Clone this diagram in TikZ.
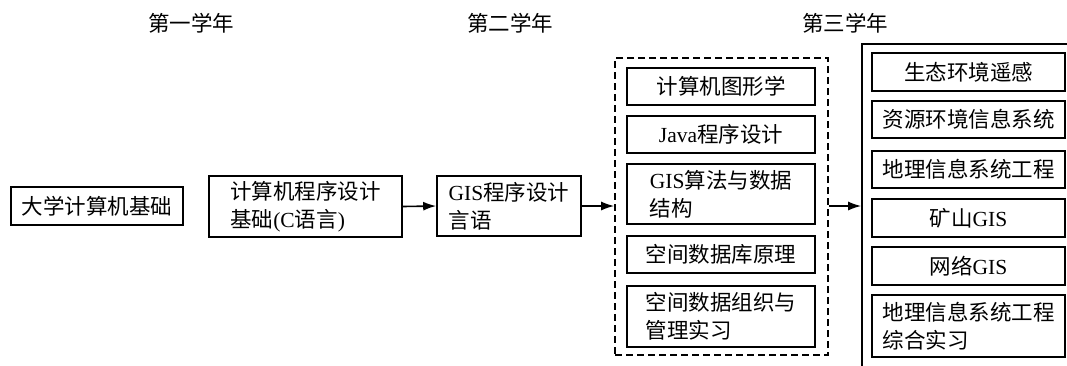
\documentclass[tikz,border=0pt]{standalone}
\usepackage{fontspec}
\setmainfont{Noto Sans CJK SC}
\newfontfamily\lat{Liberation Serif}
\usetikzlibrary{arrows.meta}

\tikzset{
  course/.style={draw, line width=1.6pt, inner sep=0pt, align=left,
    font=\fontsize{21.5}{28}\selectfont},
  yearlabel/.style={inner sep=0pt, font=\fontsize{21.5}{26}\selectfont},
  group/.style={draw, line width=1.6pt, dash pattern=on 7pt off 4pt, inner sep=0pt},
  panel/.style={draw, line width=1.6pt, inner sep=0pt},
  arr/.style={line width=1.6pt, -{Latex[length=13pt,width=9pt]}}
}

\begin{document}
\begin{tikzpicture}[x=1pt, y=-1pt]
  \useasboundingbox (0,0) rectangle (1067,365);
  \clip (0,0) rectangle (1067,365);
  \fill[white] (0,0) rectangle (1067,365);

  % year headings
  \node[yearlabel] (y1) at (191,23) {第一学年};
  \node[yearlabel] (y2) at (510,23) {第二学年};
  \node[yearlabel] (y3) at (845,23) {第三学年};

  % first year
  \node[course, minimum width=172pt, minimum height=38pt] (b1) at (97,206) {大学计算机基础};
  \node[course, minimum width=193pt, minimum height=61pt] (b2) at (305.5,206.5)
    {计算机程序设计\\基础{\lat (C}语言{\lat )}};

  % second year
  \node[course, minimum width=144pt, minimum height=60pt] (b3) at (509,206)
    {{\lat GIS}程序设计\\言语};

  \node[group, minimum width=213pt, minimum height=297pt] (g2) at (721.5,206.5) {};
  \node[course, minimum width=188pt, minimum height=37pt] (m1) at (721,86.5) {计算机图形学};
  \node[course, minimum width=188pt, minimum height=37pt] (m2) at (721,134.5) {{\lat Java}程序设计};
  \node[course, minimum width=188pt, minimum height=60pt] (m3) at (721,194) {{\lat GIS}算法与数据\\结构};
  \node[course, minimum width=188pt, minimum height=37pt] (m4) at (721,254.5) {空间数据库原理};
  \node[course, minimum width=188pt, minimum height=61pt] (m5) at (721,316.5) {空间数据组织与\\管理实习};

  % third year
  \node[panel, minimum width=228pt, minimum height=336pt] (g3) at (976,212) {};
  \node[course, minimum width=193pt, minimum height=38pt] (r1) at (968.5,72) {生态环境遥感};
  \node[course, minimum width=193pt, minimum height=37pt] (r2) at (968.5,119.5) {资源环境信息系统};
  \node[course, minimum width=193pt, minimum height=37pt] (r3) at (968.5,169.5) {地理信息系统工程};
  \node[course, minimum width=193pt, minimum height=38pt] (r4) at (968.5,218) {矿山{\lat GIS}};
  \node[course, minimum width=193pt, minimum height=38pt] (r5) at (968.5,266) {网络{\lat GIS}};
  \node[course, minimum width=193pt, minimum height=62pt] (r6) at (968.5,326) {地理信息系统工程\\综合实习};

  % flow between years
  \draw[arr] (b2.east) -- (b3.west);
  \draw[arr] (b3.east) -- (b3.east -| g2.west);
  \draw[arr] (g2.east |- b3.east) -- (b3.east -| g3.west);
\end{tikzpicture}
\end{document}
